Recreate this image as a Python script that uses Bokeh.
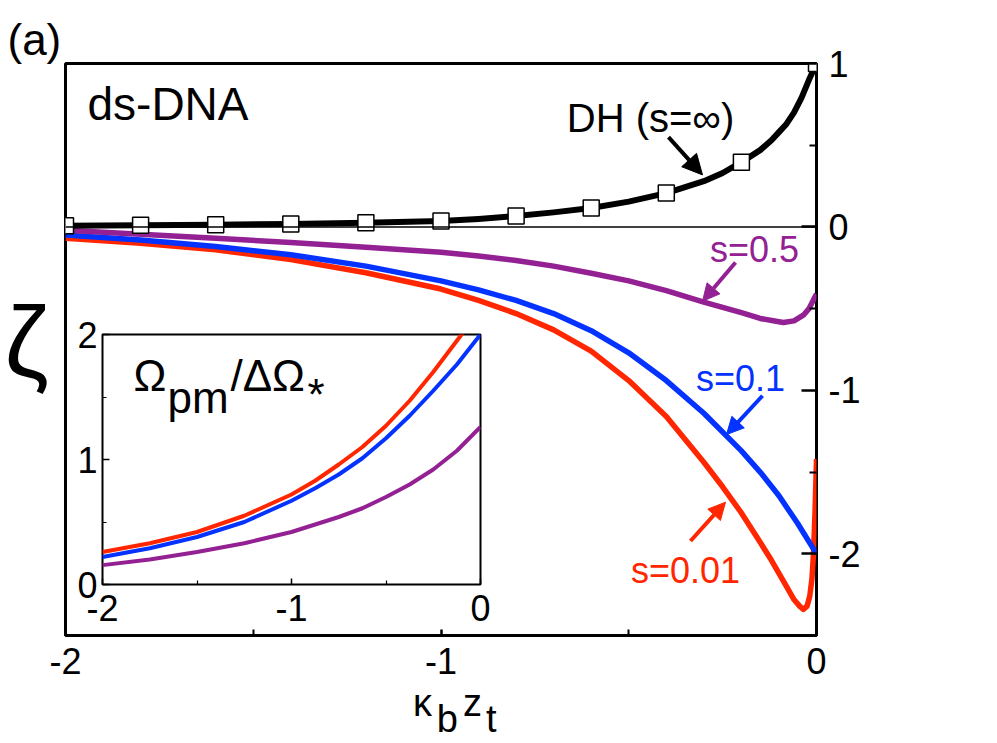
from bokeh.plotting import figure
from bokeh.models import Range1d, FixedTicker, Span, Label, Arrow, NormalHead, LinearAxis
from bokeh.embed import file_html
from bokeh.resources import INLINE

FONT = "Liberation Sans"
PLUM = "#942193"
BLUE = "#0433FF"
RED = "#FF2600"

# ---------------- data: main panel (zeta vs kappa_b z_t) ----------------
dh_x = [-2.0, -1.8, -1.6, -1.4, -1.2, -1.0, -0.9, -0.8, -0.7, -0.6, -0.5, -0.4, -0.3,
        -0.25, -0.2, -0.15, -0.12, -0.1, -0.08, -0.06, -0.04, -0.02, 0.0]
dh_y = [0.007, 0.010, 0.014, 0.018, 0.025, 0.036, 0.049, 0.067, 0.089, 0.116, 0.155,
        0.207, 0.28, 0.33, 0.396, 0.47, 0.53, 0.58, 0.63, 0.70, 0.79, 0.90, 1.0]

dh_mark_x = [-2.0, -1.8, -1.6, -1.4, -1.2, -1.0, -0.8, -0.6, -0.4, -0.2, 0.0]
dh_mark_y = [0.007, 0.010, 0.014, 0.018, 0.025, 0.036, 0.067, 0.116, 0.207, 0.396, 1.0]

s05_x = [-2.0, -1.8, -1.6, -1.4, -1.2, -1.0, -0.9, -0.8, -0.7, -0.6, -0.5, -0.4, -0.3,
         -0.2, -0.15, -0.1, -0.088, -0.06, -0.035, -0.02, -0.01, 0.0]
s05_y = [-0.02, -0.045, -0.07, -0.095, -0.125, -0.155, -0.178, -0.205, -0.24, -0.283,
         -0.33, -0.39, -0.46, -0.525, -0.56, -0.58, -0.585, -0.575, -0.54, -0.50, -0.455,
         -0.41]

s01_x = [-2.0, -1.8, -1.6, -1.4, -1.2, -1.0, -0.9, -0.8, -0.7, -0.6, -0.5, -0.4, -0.3,
         -0.2, -0.15, -0.1, -0.05, 0.0]
s01_y = [-0.05, -0.08, -0.12, -0.17, -0.24, -0.33, -0.385, -0.45, -0.53, -0.635, -0.77,
         -0.94, -1.14, -1.37, -1.50, -1.645, -1.815, -2.0]

s001_x = [-2.0, -1.8, -1.6, -1.4, -1.2, -1.0, -0.9, -0.8, -0.7, -0.6, -0.5, -0.4, -0.3,
          -0.25, -0.2, -0.15, -0.12, -0.1, -0.08, -0.06, -0.045, -0.035, -0.025, -0.018,
          -0.012, -0.008, -0.004, 0.0]
s001_y = [-0.07, -0.10, -0.14, -0.20, -0.28, -0.38, -0.45, -0.53, -0.63, -0.76, -0.94,
          -1.16, -1.44, -1.59, -1.75, -1.93, -2.04, -2.12, -2.20, -2.28, -2.32, -2.34,
          -2.32, -2.26, -2.15, -2.0, -1.75, -1.42]

main_xticks = [-2, -1, 0]
main_xminor = [-1.5, -0.5]
main_xlabels = ["-2", "-1", "0"]
main_yticks = [-2, -1, 0, 1]
main_yminor = [-1.5, -0.5, 0.5]
main_ylabels = ["-2", "-1", "0", "1"]

# ---------------- data: inset (Omega_pm / Delta Omega_*) ----------------
in_x = [-2.0, -1.75, -1.5, -1.25, -1.0, -0.875, -0.75, -0.625, -0.5, -0.375, -0.25,
        -0.125, 0.0]
in_red = [0.26, 0.33, 0.42, 0.55, 0.72, 0.83, 0.96, 1.10, 1.27, 1.47, 1.70, 1.95, 2.2]
in_blue = [0.22, 0.29, 0.38, 0.50, 0.67, 0.77, 0.88, 1.01, 1.17, 1.35, 1.55, 1.76, 2.0]
in_plum = [0.155, 0.20, 0.26, 0.33, 0.42, 0.48, 0.54, 0.61, 0.70, 0.80, 0.92, 1.07, 1.26]

in_xticks = [-2, -1, 0]
in_xminor = [-1.5, -0.5]
in_xlabels = ["-2", "-1", "0"]
in_yticks = [0, 1, 2]
in_yminor = [0.5, 1.5]
in_ylabels = ["0", "1", "2"]

# ---------------- main figure ----------------
W, H = 990, 742
FL, FR, FT, FB = 65, 816, 63, 638   # frame edges on the page


def mx(px):
    return -2 + (px - FL) * 2.0 / (FR - FL)


def my(py):
    return 1 - (py - FT) * 3.5 / (FB - FT)


p = figure(width=W, height=H, x_range=Range1d(-2, 0), y_range=Range1d(-2.5, 1),
           y_axis_location="right", output_backend="svg", toolbar_location=None,
           min_border_left=FL, min_border_right=W - FR,
           min_border_top=FT, min_border_bottom=H - FB,
           title="(a)")
p.title.text_font = FONT
p.title.text_font_size = "44px"
p.title.text_font_style = "normal"
p.title.text_color = "black"
p.title.align = "left"
p.title.offset = 7 - FL
p.title.standoff = 0

p.xgrid.grid_line_color = None
p.ygrid.grid_line_color = None
p.outline_line_color = "black"
p.outline_line_width = 3
p.background_fill_color = "white"
p.border_fill_color = "white"

p.xaxis.ticker = FixedTicker(ticks=main_xticks, minor_ticks=main_xminor)
p.yaxis.ticker = FixedTicker(ticks=main_yticks, minor_ticks=main_yminor)
p.xaxis.major_label_overrides = dict(zip(main_xticks, main_xlabels))
p.yaxis.major_label_overrides = dict(zip(main_yticks, main_ylabels))
for ax in (p.xaxis, p.yaxis):
    ax.axis_line_color = None
    ax.major_tick_out = 0
    ax.minor_tick_out = 0
    ax.major_tick_line_width = 2.5
    ax.minor_tick_line_width = 2
    ax.major_tick_line_color = "black"
    ax.minor_tick_line_color = "black"
    ax.major_label_text_font = FONT
    ax.major_label_text_font_size = "36px"
    ax.major_label_text_color = "black"
    ax.major_label_standoff = 12
p.xaxis.major_tick_in = 6
p.xaxis.minor_tick_in = 6
p.yaxis.major_tick_in = 15
p.yaxis.minor_tick_in = 7


def text_axis(place, ticks, texts, size, standoff):
    ax = LinearAxis(ticker=FixedTicker(ticks=ticks), axis_line_color=None,
                    major_tick_in=0, major_tick_out=0, minor_tick_in=0, minor_tick_out=0,
                    major_label_overrides=dict(zip(ticks, texts)),
                    major_label_text_font=FONT, major_label_text_font_size=f"{size}px",
                    major_label_text_color="black", major_label_standoff=standoff)
    p.add_layout(ax, place)
    return ax


# y-axis title (zeta), shown on the left
text_axis("left", [round(my(343), 3)], ["ζ"], 100, 17)
# x-axis title  kappa_b z_t  (main letters, then their subscripts)
text_axis("below", [round(mx(422), 3), round(mx(472), 3)], ["κ", "z"], 38, 5)
text_axis("below", [round(mx(447), 3), round(mx(491), 3)], ["b", "t"], 38, -29)

p.add_layout(Span(location=0, dimension="width", line_color="black", line_width=1.5))

p.line(s001_x, s001_y, line_color=RED, line_width=5.5, line_join="round")
p.line(s01_x, s01_y, line_color=BLUE, line_width=5.5, line_join="round")
p.line(s05_x, s05_y, line_color=PLUM, line_width=5.5, line_join="round")
p.line(dh_x, dh_y, line_color="black", line_width=6, line_join="round")
p.scatter(dh_mark_x, dh_mark_y, marker="square", size=16, fill_color="white",
          line_color="black", line_width=1.5)


def label(fig, x, y, text, size, color="black", align="left"):
    fig.add_layout(Label(x=x, y=y, text=text, text_font=FONT, text_font_size=f"{size}px",
                         text_color=color, text_align=align, text_baseline="middle"))


def arrow(x0, y0, x1, y1, color, size):
    p.add_layout(Arrow(x_start=x0, y_start=y0, x_end=x1, y_end=y1,
                       line_color=color, line_width=4,
                       end=NormalHead(size=size, fill_color=color, line_color=color,
                                      line_width=1)))


label(p, mx(87), my(104), "ds-DNA", 46)
label(p, mx(650), my(118), "DH (s=∞)", 40, align="center")
label(p, mx(754), my(250), "s=0.5", 36, PLUM, align="center")
label(p, mx(740), my(380), "s=0.1", 36, BLUE, align="center")
label(p, mx(685), my(573), "s=0.01", 36, RED, align="center")

arrow(mx(668), my(137), mx(702), my(175), "black", 20)
arrow(mx(735), my(263), mx(702), my(302), PLUM, 17)
arrow(mx(762), my(397), mx(726), my(436), BLUE, 17)
arrow(mx(690), my(543), mx(725), my(504), RED, 17)

# ---------------- inset figure ----------------
IL, IT = 68, 300          # inset canvas position on the page
IW, IH = 426, 344
IFL, IFR, IFT, IFB = 102, 480, 334, 584   # inset frame on the page
inset = figure(width=IW, height=IH, x_range=Range1d(-2, 0), y_range=Range1d(0, 2),
               output_backend="svg", toolbar_location=None,
               min_border_left=IFL - IL, min_border_right=IW - (IFR - IL),
               min_border_top=IFT - IT, min_border_bottom=IH - (IFB - IT))
inset.styles = {"position": "absolute", "left": f"{IL}px", "top": f"{IT}px"}
inset.border_fill_color = None
inset.background_fill_color = "white"
inset.outline_line_color = "black"
inset.outline_line_width = 2
inset.xgrid.grid_line_color = None
inset.ygrid.grid_line_color = None
inset.xaxis.ticker = FixedTicker(ticks=in_xticks, minor_ticks=in_xminor)
inset.yaxis.ticker = FixedTicker(ticks=in_yticks, minor_ticks=in_yminor)
inset.xaxis.major_label_overrides = dict(zip(in_xticks, in_xlabels))
inset.yaxis.major_label_overrides = dict(zip(in_yticks, in_ylabels))
for ax in (inset.xaxis, inset.yaxis):
    ax.axis_line_color = None
    ax.major_tick_out = 0
    ax.minor_tick_out = 0
    ax.major_tick_line_width = 1.5
    ax.minor_tick_line_width = 1.2
    ax.major_tick_line_color = "black"
    ax.minor_tick_line_color = "black"
    ax.major_label_text_font = FONT
    ax.major_label_text_font_size = "36px"
    ax.major_label_text_color = "black"
inset.xaxis.major_tick_in = 6
inset.xaxis.minor_tick_in = 4
inset.yaxis.major_tick_in = 7
inset.yaxis.minor_tick_in = 4
inset.xaxis.major_label_standoff = 10
inset.yaxis.major_label_standoff = 5

inset.line(in_x, in_plum, line_color=PLUM, line_width=4, line_join="round")
inset.line(in_x, in_blue, line_color=BLUE, line_width=4, line_join="round")
inset.line(in_x, in_red, line_color=RED, line_width=4, line_join="round")


def ix(px):
    return -2 + (px - IFL) * 2.0 / (IFR - IFL)


def iy(py):
    return (IFB - py) * 2.0 / (IFB - IFT)


label(inset, ix(133), iy(375), "Ω", 44)
label(inset, ix(167), iy(397), "pm", 44)
label(inset, ix(230), iy(375), "/ΔΩ", 44)
label(inset, ix(307), iy(394), "*", 44)

open("out.html", "w").write(file_html([p, inset], INLINE))
